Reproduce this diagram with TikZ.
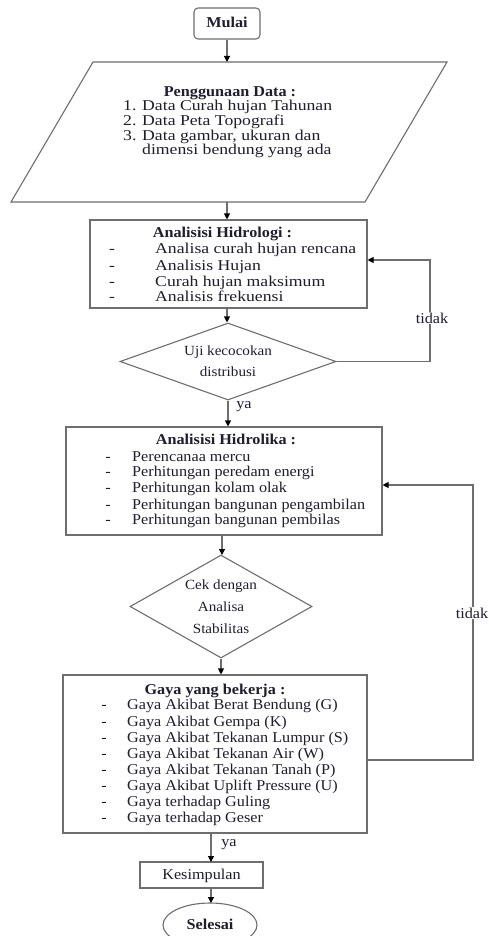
\documentclass[tikz,border=0pt]{standalone}
\usepackage{fontspec}
\setmainfont{Liberation Serif}
\newfontfamily\wa[FakeStretch=1.18]{Liberation Serif}
\newfontfamily\wb[FakeStretch=1.08]{Liberation Serif}
\usetikzlibrary{arrows.meta,shapes.geometric}
\definecolor{linec}{RGB}{110,110,110}
\definecolor{textc}{RGB}{30,30,45}
\begin{document}
\begin{tikzpicture}[x=1pt,y=-1pt,
  line/.style={draw=linec, line width=1.1pt},
  arr/.style={line, -{Triangle[length=6pt,width=6pt,color=black]}},
  box/.style={line, rectangle, inner sep=0pt},
  rbox/.style={box, rounded corners=4pt},
  dia/.style={line, diamond, inner sep=0pt, align=center, text=textc},
  tA/.style={inner sep=0pt, text=textc, font=\wa\fontsize{15}{16}\selectfont, text height=11pt, text depth=3pt},
  tB/.style={inner sep=0pt, text=textc, font=\wb\fontsize{15}{16}\selectfont, text height=11pt, text depth=3pt},
  lbl/.style={inner sep=1pt, fill=white, text=textc, font=\wb\fontsize{15}{16}\selectfont}]
\useasboundingbox (0,0) rectangle (488,936);
\fill[white] (0,0) rectangle (488,936);

% Mulai
\node[rbox, minimum width=66pt, minimum height=31pt, tB] (mulai) at (227,23.5) {\bfseries Mulai};

% Parallelogram (data input)
\draw[line] (93,62) -- (447,62) -- (365,202) -- (11,202) -- cycle;
\coordinate (paraN) at (227,62);
\coordinate (paraS) at (227,202);
\node[tB, anchor=center] (pTitle) at (230,93) {\bfseries Penggunaan Data :};
\node[tA, anchor=west] (p1n) at (123,107) {1.};
\node[tA, anchor=west] (p1) at (142,107) {Data Curah hujan Tahunan};
\node[tA, anchor=west] (p2n) at (123,122) {2.};
\node[tA, anchor=west] (p2) at (142,122) {Data Peta Topografi};
\node[tA, anchor=west] (p3n) at (123,137) {3.};
\node[tA, anchor=west] (p3) at (142,137) {Data gambar, ukuran dan};
\node[tA, anchor=west] (p4) at (142,151) {dimensi bendung yang ada};

% Analisisi Hidrologi
\node[box, minimum width=277pt, minimum height=88pt] (hidro) at (228.5,264) {};
\node[tB, anchor=center] (hTitle) at (222.5,233) {\bfseries Analisisi Hidrologi :};
\node[tA] (hd1) at (112,249) {-};
\node[tA, anchor=west] (h1) at (155,249) {Analisa curah hujan rencana};
\node[tA] (hd2) at (112,266) {-};
\node[tA, anchor=west] (h2) at (155,266) {Analisis Hujan};
\node[tA] (hd3) at (112,282) {-};
\node[tA, anchor=west] (h3) at (155,282) {Curah hujan maksimum};
\node[tA] (hd4) at (112,297) {-};
\node[tA, anchor=west] (h4) at (155,297) {Analisis frekuensi};

% Diamond 1
\node[dia, minimum width=216pt, minimum height=77pt, aspect=2.8, font=\wb\fontsize{14}{21}\selectfont] (d1) at (228,361.5) {Uji kecocokan\\distribusi};

% Analisisi Hidrolika
\node[box, minimum width=316pt, minimum height=108pt] (hidrl) at (224,481) {};
\node[tB, anchor=center] (lTitle) at (226,440) {\bfseries Analisisi Hidrolika :};
\node[tB] (ld1) at (108,457) {-};
\node[tB, anchor=west] (l1) at (132,457) {Perencanaa mercu};
\node[tB] (ld2) at (108,472) {-};
\node[tB, anchor=west] (l2) at (132,472) {Perhitungan peredam energi};
\node[tB] (ld3) at (108,488) {-};
\node[tB, anchor=west] (l3) at (132,488) {Perhitungan kolam olak};
\node[tB] (ld4) at (108,505) {-};
\node[tB, anchor=west] (l4) at (132,505) {Perhitungan bangunan pengambilan};
\node[tB] (ld5) at (108,520) {-};
\node[tB, anchor=west] (l5) at (132,520) {Perhitungan bangunan pembilas};

% Diamond 2
\node[dia, minimum width=182pt, minimum height=103pt, aspect=1.77, font=\wb\fontsize{14}{22}\selectfont] (d2) at (221,606.5) {Cek dengan\\Analisa\\Stabilitas};

% Gaya yang bekerja
\node[box, minimum width=304pt, minimum height=158pt] (gaya) at (215,754) {};
\node[tB, anchor=center] (gTitle) at (215,690) {\bfseries Gaya yang bekerja :};
\node[tB] (gd1) at (104,705) {-};
\node[tB, anchor=west] (g1) at (127,705) {Gaya Akibat Berat Bendung (G)};
\node[tB] (gd2) at (104,722) {-};
\node[tB, anchor=west] (g2) at (127,722) {Gaya Akibat Gempa (K)};
\node[tB] (gd3) at (104,738) {-};
\node[tB, anchor=west] (g3) at (127,738) {Gaya Akibat Tekanan Lumpur (S)};
\node[tB] (gd4) at (104,754) {-};
\node[tB, anchor=west] (g4) at (127,754) {Gaya Akibat Tekanan Air (W)};
\node[tB] (gd5) at (104,770) {-};
\node[tB, anchor=west] (g5) at (127,770) {Gaya Akibat Tekanan Tanah (P)};
\node[tB] (gd6) at (104,786) {-};
\node[tB, anchor=west] (g6) at (127,786) {Gaya Akibat Uplift Pressure (U)};
\node[tB] (gd7) at (104,802) {-};
\node[tB, anchor=west] (g7) at (127,802) {Gaya terhadap Guling};
\node[tB] (gd8) at (104,818) {-};
\node[tB, anchor=west] (g8) at (127,818) {Gaya terhadap Geser};

% Kesimpulan and Selesai
\node[box, minimum width=123pt, minimum height=26pt, tB] (kes) at (201.5,875) {Kesimpulan};
\node[line, ellipse, inner sep=0pt, minimum width=94pt, minimum height=44pt, tB] (selesai) at (210,925) {\bfseries Selesai};

% Connectors
\draw[arr] (mulai.south) -- (paraN);
\draw[arr] (paraS) -- (paraS |- hidro.north);
\draw[arr] (227,308) -- (d1.north -| 227,0);
\draw[arr] (d1.south) -- (d1.south |- hidrl.north);
\draw[arr] (222,535) -- (222,555);
\draw[arr] (d2.south) -- (d2.south |- gaya.north);
\draw[arr] (211,833) -- (211,862);
\draw[arr] (211,888) -- (211,903);

% loops
\coordinate (c1a) at (430,361.5);
\coordinate (c1b) at (430,260);
\draw[arr] (d1.east) -- (c1a) -- (c1b) -- (hidro.east |- c1b);
\node[lbl] (tidak1) at (432,318) {tidak};

\coordinate (c2s) at (gaya.east |- 0,760);
\coordinate (c2a) at (473,760);
\coordinate (c2b) at (473,485);
\draw[arr] (c2s) -- (c2a) -- (c2b) -- (hidrl.east |- c2b);
\node[lbl] (tidak2) at (472,613) {tidak};

\node[inner sep=0pt, text=textc, font=\wb\fontsize{15}{16}\selectfont] (ya1) at (244,407) {ya};
\node[inner sep=0pt, text=textc, font=\wb\fontsize{15}{16}\selectfont] (ya2) at (229,845) {ya};
\end{tikzpicture}
\end{document}
